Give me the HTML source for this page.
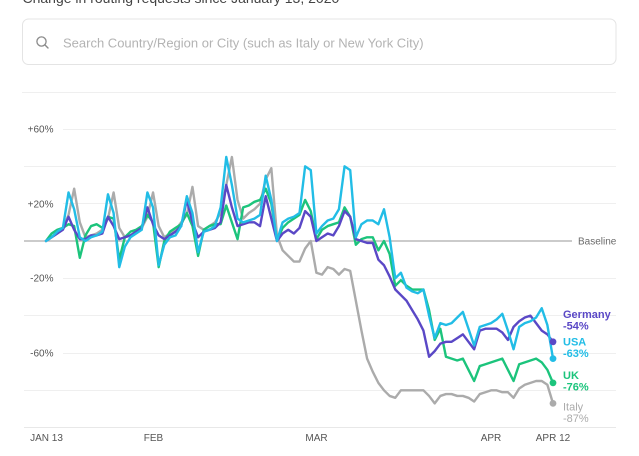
<!DOCTYPE html>
<html><head><meta charset="utf-8"><style>
html,body{margin:0;padding:0;background:#fff;}
svg{display:block;font-family:"Liberation Sans",Arial,sans-serif;}
</style></head><body>
<svg width="639" height="456" viewBox="0 0 639 456" xmlns="http://www.w3.org/2000/svg">
<rect width="639" height="456" fill="#fff"/>
<text x="22.5" y="3" font-size="14" fill="#444">Change in routing requests since January 13, 2020</text>
<rect x="22.5" y="19" width="593.5" height="45.5" rx="6" fill="#fff" stroke="#e4e4e4" stroke-width="1"/>
<circle cx="41.5" cy="41.5" r="4.6" fill="none" stroke="#8a8a8a" stroke-width="1.3"/>
<line x1="44.8" y1="44.8" x2="48" y2="48" stroke="#8a8a8a" stroke-width="1.4" stroke-linecap="round"/>
<text x="63" y="47.5" font-size="13" fill="#b3b3b3">Search Country/Region or City (such as Italy or New York City)</text>
<g stroke="#efefef" stroke-width="1">
<line x1="22" y1="92.5" x2="616" y2="92.5"/>
<line x1="63" y1="129.5" x2="616" y2="129.5"/>
<line x1="24" y1="166.5" x2="616" y2="166.5"/>
<line x1="63" y1="203.5" x2="616" y2="203.5"/>
<line x1="63" y1="278.5" x2="616" y2="278.5"/>
<line x1="24" y1="315.5" x2="616" y2="315.5"/>
<line x1="63" y1="353.5" x2="616" y2="353.5"/>
<line x1="24" y1="390.5" x2="616" y2="390.5"/>
<line x1="24" y1="427.5" x2="616" y2="427.5" stroke="#e8e8e8"/>
</g>
<line x1="24" y1="241" x2="572" y2="241" stroke="#acacac" stroke-width="1.2"/>
<text x="578" y="244.5" font-size="10" fill="#6a6a6a">Baseline</text>
<g font-size="10" fill="#555" text-anchor="end">
<text x="53.5" y="132.5">+60%</text>
<text x="53.5" y="207.5">+20%</text>
<text x="53.5" y="281.5">-20%</text>
<text x="53.5" y="356.5">-60%</text>
</g>
<g font-size="10" fill="#555" text-anchor="middle">
<text x="46.5" y="441">JAN 13</text>
<text x="153.5" y="441">FEB</text>
<text x="316.5" y="441">MAR</text>
<text x="491" y="441">APR</text>
<text x="553" y="441">APR 12</text>
</g>
<g transform="translate(46,241) scale(5.6333,-1.8667)" fill="none" stroke-width="2.4" stroke-linejoin="round" stroke-linecap="round">
<polyline vector-effect="non-scaling-stroke" stroke="#ababab" points="0,0 1,2 2,4 3,7 4,14 5,28 6,10 7,2 8,3 9,4 10,6 11,12 12,26 13,7 14,2 15,3 16,5 17,7 18,13 19,26 20,8 21,2 22,4 23,6 24,10 25,14 26,29 27,8 28,6 29,8 30,10 31,15 32,30 33,45 34,22 35,12 36,15 37,17 38,20 39,33 40,39 41,3 42,-5 43,-8 44,-11 45,-11 46,-4 47,0 48,-17 49,-18 50,-14 51,-15 52,-18 53,-15 54,-16 55,-32 56,-48 57,-63 58,-70 59,-76 60,-80 61,-83 62,-84 63,-80 64,-80 65,-80 66,-80 67,-80 68,-83 69,-87 70,-83 71,-82 72,-82 73,-83 74,-83 75,-84 76,-86 77,-82 78,-81 79,-80 80,-80 81,-81 82,-81 83,-84 84,-79 85,-77 86,-76 87,-75 88,-75 89,-77 90,-87"/>
<polyline vector-effect="non-scaling-stroke" stroke="#1cc47c" points="0,0 1,4 2,6 3,7 4,9 5,8 6,-9 7,3 8,8 9,9 10,7 11,13 12,12 13,-10 14,2 15,5 16,6 17,8 18,14 19,10 20,-14 21,0 22,5 23,7 24,9 25,15 26,8 27,-8 28,6 29,8 30,9 31,9 32,19 33,10 34,1 35,18 36,19 37,21 38,22 39,28 40,20 41,0 42,7 43,10 44,12 45,14 46,22 47,16 48,1 49,6 50,8 51,9 52,10 53,18 54,13 55,-2 56,1 57,2 58,2 59,-5 60,0 61,-7 62,-24 63,-21 64,-24 65,-26 66,-26 67,-26 68,-37 69,-53 70,-47 71,-62 72,-63 73,-64 74,-63 75,-69 76,-75 77,-67 78,-66 79,-65 80,-64 81,-63 82,-69 83,-75 84,-66 85,-65 86,-64 87,-63 88,-65 89,-69 90,-76"/>
<polyline vector-effect="non-scaling-stroke" stroke="#5a48c6" points="0,0 1,2 2,4 3,6 4,13 5,6 6,1 7,1 8,3 9,3 10,4 11,13 12,8 13,1 14,2 15,3 16,5 17,7 18,18 19,9 20,3 21,1 22,3 23,5 24,8 25,22 26,10 27,2 28,5 29,6 30,7 31,10 32,30 33,18 34,8 35,9 36,10 37,10 38,8 39,24 40,12 41,0 42,4 43,6 44,4 45,7 46,16 47,13 48,0 49,2 50,4 51,3 52,8 53,16 54,13 55,1 56,0 57,-1 58,-1 59,-10 60,-13 61,-19 62,-26 63,-29 64,-32 65,-37 66,-42 67,-48 68,-62 69,-59 70,-55 71,-54 72,-54 73,-52 74,-50 75,-54 76,-58 77,-48 78,-47 79,-47 80,-47 81,-49 82,-53 83,-46 84,-43 85,-41 86,-40 87,-44 88,-48 89,-50 90,-54"/>
<polyline vector-effect="non-scaling-stroke" stroke="#22bde6" points="0,0 1,2 2,5 3,7 4,26 5,17 6,2 7,0 8,2 9,3 10,5 11,25 12,15 13,-14 14,-3 15,2 16,4 17,6 18,26 19,18 20,-13 21,-2 22,2 23,3 24,8 25,24 26,15 27,-6 28,5 29,6 30,8 31,18 32,45 33,30 34,12 35,10 36,11 37,12 38,14 39,35 40,22 41,0 42,10 43,12 44,13 45,15 46,40 47,38 48,4 49,8 50,11 51,12 52,17 53,40 54,38 55,2 56,9 57,11 58,11 59,9 60,17 61,2 62,-20 63,-17 64,-25 65,-27 66,-28 67,-26 68,-40 69,-52 70,-44 71,-45 72,-44 73,-41 74,-38 75,-47 76,-56 77,-46 78,-45 79,-44 80,-42 81,-39 82,-48 83,-58 84,-46 85,-44 86,-43 87,-41 88,-36 89,-45 90,-63"/>
</g>
<circle cx="553" cy="403.4" r="3.4" fill="#ababab"/>
<circle cx="553" cy="382.9" r="3.4" fill="#1cc47c"/>
<circle cx="553" cy="341.8" r="3.4" fill="#5a48c6"/>
<circle cx="553" cy="358.6" r="3.4" fill="#22bde6"/>
<g font-size="11" font-weight="bold">
<text x="563" y="318" fill="#5a48c6">Germany</text>
<text x="563" y="329.7" fill="#5a48c6">-54%</text>
<text x="563" y="345.5" fill="#22bde6">USA</text>
<text x="563" y="357" fill="#22bde6">-63%</text>
<text x="563" y="379" fill="#1cc47c">UK</text>
<text x="563" y="390.7" fill="#1cc47c">-76%</text>
<text x="563" y="410.5" fill="#ababab" font-weight="normal">Italy</text>
<text x="563" y="422.2" fill="#ababab" font-weight="normal">-87%</text>
</g>
</svg>
</body></html>
